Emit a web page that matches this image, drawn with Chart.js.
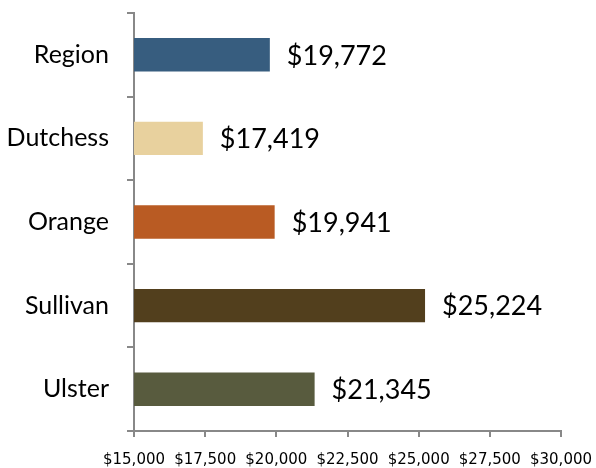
<!DOCTYPE html>
<html>
<head>
<meta charset="utf-8">
<script src="https://cdn.jsdelivr.net/npm/chart.js@4.4.0/dist/chart.umd.min.js"></script>
<style>
    body { margin: 0; background: #fff; }
    #chart-wrap { width: 596px; height: 468px; }
</style>
</head>
<body>
<div id="chart-wrap"><canvas id="income-bar-chart" width="596" height="468"></canvas></div>
<script>
const counties = ["Region", "Dutchess", "Orange", "Sullivan", "Ulster"];
const incomeValues = [19772, 17419, 19941, 25224, 21345];
const barColors = ["#375d7f", "#e8d19e", "#b95b23", "#523f1d", "#585b3e"];
const xTicks = [15000, 17500, 20000, 22500, 25000, 27500, 30000];

const axisGray = "#888888";
const fontFamily = "Lato, 'DejaVu Sans', sans-serif";

function toDollars(value) {
    return "$" + value.toLocaleString("en-US");
}

// draws the value next to the end of each bar
const valueLabels = {
    id: "valueLabels",
    afterDatasetsDraw(chart) {
        const ctx = chart.ctx;
        const meta = chart.getDatasetMeta(0);
        ctx.save();
        ctx.font = "27px " + fontFamily;
        ctx.fillStyle = "#000";
        ctx.textBaseline = "middle";
        ctx.textAlign = "left";
        meta.data.forEach((bar, i) => {
            ctx.fillText(toDollars(incomeValues[i]), bar.x + 17, bar.y + 1);
        });
        ctx.restore();
    }
};

const ctx = document.querySelector("#income-bar-chart");
const data = {
    labels: counties,
    datasets: [{
        data: incomeValues,
        backgroundColor: barColors,
        barPercentage: 0.4,
        categoryPercentage: 1
    }]
};
const options = {
    indexAxis: "y",
    responsive: false,
    animation: false,
    layout: {
        padding: { top: 13, right: 35, left: 0, bottom: 0 }
    },
    plugins: {
        legend: { display: false },
        tooltip: { enabled: false }
    },
    scales: {
        x: {
            min: 15000,
            max: 30000,
            afterBuildTicks: (scale) => {
                scale.ticks = xTicks.map(v => ({ value: v }));
            },
            afterFit: (scale) => {
                scale.height = 37;
                scale.paddingLeft = 0;
                scale.paddingRight = 0;
            },
            border: { color: axisGray, width: 2 },
            grid: {
                drawOnChartArea: false,
                color: axisGray,
                lineWidth: 2,
                tickLength: 6
            },
            ticks: {
                color: "#000",
                padding: 14,
                maxRotation: 0,
                autoSkip: false,
                font: { family: "'DejaVu Sans', sans-serif", size: 15 },
                callback: (value) => toDollars(value)
            }
        },
        y: {
            afterFit: (scale) => {
                scale.width = 134;
                scale.paddingTop = 0;
                scale.paddingBottom = 0;
            },
            border: { color: axisGray, width: 2 },
            grid: {
                drawOnChartArea: false,
                color: axisGray,
                lineWidth: 2,
                tickLength: 7,
                offset: true
            },
            ticks: {
                color: "#000",
                padding: 18,
                font: { family: fontFamily, size: 25 }
            }
        }
    }
};

new Chart(ctx, {
    type: "bar",
    data: data,
    options: options,
    plugins: [valueLabels]
});
</script>
</body>
</html>
